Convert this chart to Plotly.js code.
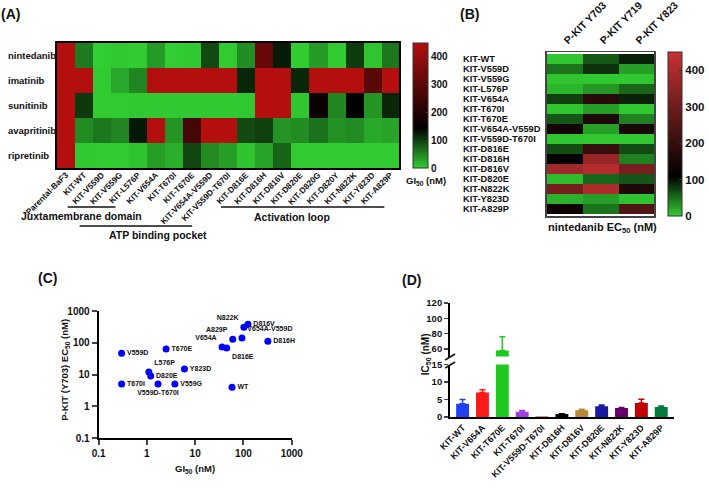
<!DOCTYPE html>
<html>
<head>
<meta charset="utf-8">
<script src="https://cdn.plot.ly/plotly-3.0.1.min.js"></script>
<style>
  html, body { margin: 0; padding: 0; background: #fff; }
  #chart { width: 709px; height: 488px; }
</style>
</head>
<body>
<div id="chart"></div>
<script>
"use strict";

// ---- panel A: GI50 (nM) of each drug on the BaF3 lines ----
const drugs = ["nintedanib", "imatinib", "sunitinib", "avapritinib", "ripretinib"];
const cellLinesA = ["Parental-BaF3", "KIT-WT", "KIT-V559D", "KIT-V559G", "KIT-L576P", "KIT-V654A",
  "KIT-T670I", "KIT-T670E", "KIT-V654A-V559D", "KIT-V559D-T670I", "KIT-D816E", "KIT-D816H",
  "KIT-D816V", "KIT-D820E", "KIT-D820G", "KIT-D820Y", "KIT-N822K", "KIT-Y823D", "KIT-A829P"];
// 1000 = above the top of the scale
const gi50Nintedanib = [1000, 58, 0.3, 3.8, 1.1, 36, 0.3, 2.5, 93, 1.7, 45, 320, 124, 1.2, 35, 2, 102, 6, 60];
const gi50Imatinib = [1000, 1000, 2, 25, 50, 1000, 1000, 1000, 1000, 1000, 117, 1000, 1000, 117, 1000, 1000, 1000, 297, 1000];
const gi50Sunitinib = [1000, 105, 2, 2, 3, 3, 3, 3, 3, 3, 4, 1000, 1000, 5, 165, 50, 145, 39, 117];
const gi50Avapritinib = [1000, 46, 60, 50, 127, 1000, 39, 259, 1000, 1000, 92, 99, 39, 46, 64, 42, 46, 25, 28];
const gi50Ripretinib = [1000, 3, 2, 2, 7, 32, 21, 95, 46, 32, 7, 28, 74, 2, 2, 2, 2, 2, 2];

// ---- panel B: nintedanib EC50 (nM) on KIT phospho-sites ----
const sitesB = ["P-KIT Y703", "P-KIT Y719", "P-KIT Y823"];
const cellLinesB = ["KIT-WT", "KIT-V559D", "KIT-V559G", "KIT-L576P", "KIT-V654A", "KIT-T670I",
  "KIT-T670E", "KIT-V654A-V559D", "KIT-V559D-T670I", "KIT-D816E", "KIT-D816H", "KIT-D816V",
  "KIT-D820E", "KIT-N822K", "KIT-Y823D", "KIT-A829P"];
const ec50Y703 = [4, 47, 5, 12, 73, 5, 63, 140, 5, 68, 112, 380, 9, 310, 15, 130];
const ec50Y719 = [61, 82, 3, 29, 176, 24, 159, 24, 3, 200, 364, 415, 55, 407, 24, 47];
const ec50Y823 = [92, 24, 3, 55, 90, 3, 40, 150, 3, 68, 40, 313, 63, 160, 6, 245];

// ---- panel D: IC50 (nM) ----
const ic50Lines = ["KIT-WT", "KIT-V654A", "KIT-T670E", "KIT-T670I", "KIT-V559D-T670I", "KIT-D816H",
  "KIT-D816V", "KIT-D820E", "KIT-N822K", "KIT-Y823D", "KIT-A829P"];
const ic50Mean = [3.8, 7.0, 58, 1.5, 0.2, 0.85, 1.9, 3.05, 2.6, 4.0, 2.85];
const ic50Err = [1.2, 0.8, 18, 0.35, 0, 0.1, 0.3, 0.35, 0.1, 1.05, 0.3];

// styles
const barColors = ["#2040f0", "#ff1a1a", "#1ec81e", "#a040e0", "#e07020", "#000000",
  "#b8873a", "#1a1aa0", "#660066", "#c00000", "#007a3d"];
// text position of each point label in panel C, same order as cellLinesB
const labelPos = ["middle right", "middle right", "middle right", "top right", "top left",
  "middle right", "middle right", "top right", "bottom center", "bottom right", "middle right",
  "middle right", "middle right", "top left", "middle right", "top left"];

const FONT = "Liberation Sans, Arial, sans-serif";
const W = 709, H = 488;
function px(x) { return x / W; }
function py(y) { return 1 - y / H; }
function bold(size) { return { family: FONT, size: size, color: "#111", weight: "bold" }; }

let traces = [];
let annotations = [];
let shapes = [];

// heatmap A
traces.push({
  type: "heatmap",
  x: cellLinesA,
  y: drugs,
  z: [gi50Nintedanib, gi50Imatinib, gi50Sunitinib, gi50Avapritinib, gi50Ripretinib],
  xaxis: "x", yaxis: "y",
  zmin: 0, zmax: 450,
  colorscale: [[0, "rgb(50,205,50)"], [0.32, "rgb(0,0,0)"], [1, "rgb(180,15,15)"]],
  colorbar: {
    x: px(415), xanchor: "left", y: py(43), yanchor: "top",
    len: 125 / H, lenmode: "fraction", thickness: 15, thicknessmode: "pixels",
    xpad: 0, ypad: 0, outlinewidth: 1, outlinecolor: "#333",
    tickmode: "array", tickvals: [0, 100, 200, 300, 400],
    ticks: "inside", ticklen: 3, tickcolor: "#333",
    tickfont: bold(10)
  }
});

// heatmap B
let zB = [];
for (let i = 0; i < cellLinesB.length; i++) {
  zB.push([ec50Y703[i], ec50Y719[i], ec50Y823[i]]);
}
traces.push({
  type: "heatmap",
  x: sitesB,
  y: cellLinesB,
  z: zB,
  xaxis: "x2", yaxis: "y2",
  zmin: 0, zmax: 450,
  colorscale: [[0, "rgb(50,205,50)"], [0.24, "rgb(0,0,0)"], [1, "rgb(200,50,50)"]],
  colorbar: {
    x: px(671), xanchor: "left", y: py(52), yanchor: "top",
    len: 164 / H, lenmode: "fraction", thickness: 14, thicknessmode: "pixels",
    xpad: 0, ypad: 0, outlinewidth: 1, outlinecolor: "#333",
    tickmode: "array", tickvals: [0, 100, 200, 300, 400],
    ticks: "inside", ticklen: 3, tickcolor: "#333",
    tickfont: bold(11.5)
  }
});

// scatter C: nintedanib GI50 vs P-KIT Y703 EC50
let scX = [], scY = [], scText = [];
for (let i = 0; i < cellLinesB.length; i++) {
  let k = cellLinesA.indexOf(cellLinesB[i]);
  scX.push(gi50Nintedanib[k]);
  scY.push(ec50Y703[i]);
  scText.push(cellLinesB[i].replace("KIT-", ""));
}
traces.push({
  type: "scatter", mode: "markers+text",
  x: scX, y: scY, text: scText, textposition: labelPos,
  textfont: bold(7),
  marker: { color: "#0000ff", size: 7 },
  xaxis: "x3", yaxis: "y3", cliponaxis: false
});

// bars D, one trace per bar so each error bar keeps its colour; drawn on both halves of the broken axis
["y4", "y5"].forEach(ax => {
  for (let i = 0; i < ic50Lines.length; i++) {
    traces.push({
      type: "bar",
      x: [ic50Lines[i]], y: [ic50Mean[i]],
      xaxis: "x4", yaxis: ax,
      width: 0.65,
      marker: { color: barColors[i], line: { width: 0 } },
      error_y: {
        type: "data", array: [ic50Err[i]], arrayminus: [0], symmetric: false,
        visible: ic50Err[i] > 0, color: barColors[i], thickness: 1.5, width: 3
      }
    });
  }
});

// row labels (left aligned)
drugs.forEach((d, i) => {
  annotations.push({ text: d, xref: "paper", x: px(6), xanchor: "left", yref: "y", y: i,
    showarrow: false, font: bold(9.5) });
});
cellLinesB.forEach((c, i) => {
  annotations.push({ text: c, xref: "paper", x: px(463), xanchor: "left", yref: "y2", y: i,
    showarrow: false, font: bold(9.3) });
});

// free text
function note(text, x, y, size, angle) {
  annotations.push({ text: text, xref: "paper", yref: "paper", x: px(x), y: py(y),
    xanchor: "center", yanchor: "middle", showarrow: false, font: bold(size), textangle: angle || 0 });
}
note("(A)", 11, 14, 14);
note("(B)", 471, 14, 14);
note("(C)", 48, 278, 14);
note("(D)", 413, 280, 14);
note("GI<sub>50</sub> (nM)", 428, 181, 9.5);
note("Juxtamembrane domain", 82, 216, 10.5);
note("ATP binding pocket", 159, 235, 10.5);
note("Activation loop", 293, 217, 10.5);
note("nintedanib EC<sub>50</sub> (nM)", 605, 228, 11);
note("P-KIT (Y703) EC<sub>50</sub> (nM)", 65, 370, 9.5, -90);
note("GI<sub>50</sub> (nM)", 196, 469, 9.5);
note("IC<sub>50</sub> (nM)", 428, 354, 10, -90);

// region brackets under panel A, broken-axis marks in D
function seg(x0, y0, x1, y1, w) {
  shapes.push({ type: "line", xref: "paper", yref: "paper", x0: px(x0), y0: py(y0), x1: px(x1), y1: py(y1),
    line: { color: "#111", width: w || 1.3 } });
}
seg(68, 207, 116, 207);
seg(80, 226, 193, 226);
seg(222, 207, 386, 207);
seg(447, 360, 457, 354, 1.5);
seg(447, 368, 457, 362, 1.5);

const axisLine = { showline: true, linecolor: "#000", showgrid: false, zeroline: false };

const layout = {
  width: W, height: H,
  margin: { l: 0, r: 0, t: 0, b: 0 },
  paper_bgcolor: "#fff", plot_bgcolor: "#fff",
  showlegend: false,
  font: { family: FONT, color: "#111" },
  xaxis: Object.assign({}, axisLine, {
    domain: [px(57), px(401)], anchor: "y", type: "category",
    mirror: true, linewidth: 2, ticks: "", tickangle: -45, tickfont: bold(8.3),
    ticklabelstandoff: -3
  }),
  yaxis: Object.assign({}, axisLine, {
    domain: [py(168), py(43)], anchor: "x", type: "category", autorange: "reversed",
    mirror: true, linewidth: 2, ticks: "", showticklabels: false
  }),
  xaxis2: Object.assign({}, axisLine, {
    domain: [px(549), px(657)], anchor: "y2", type: "category", side: "top",
    mirror: true, linewidth: 1.5, linecolor: "#444", ticks: "", tickangle: -45, tickfont: bold(10.5)
  }),
  yaxis2: Object.assign({}, axisLine, {
    domain: [py(216), py(52)], anchor: "x2", type: "category", autorange: "reversed",
    mirror: true, linewidth: 1.5, linecolor: "#444", ticks: "", showticklabels: false
  }),
  xaxis3: Object.assign({}, axisLine, {
    domain: [px(99), px(293)], anchor: "y3", type: "log", range: [-1, 3],
    linewidth: 2, ticks: "outside", ticklen: 5, tickwidth: 2,
    tickmode: "array", tickvals: [0.1, 1, 10, 100, 1000], ticktext: ["0.1", "1", "10", "100", "1000"],
    tickfont: bold(10)
  }),
  yaxis3: Object.assign({}, axisLine, {
    domain: [py(438), py(311)], anchor: "x3", type: "log", range: [-1, 3],
    linewidth: 2, ticks: "outside", ticklen: 5, tickwidth: 2,
    tickmode: "array", tickvals: [0.1, 1, 10, 100, 1000], ticktext: ["0.1", "1", "10", "100", "1000"],
    tickfont: bold(10)
  }),
  xaxis4: Object.assign({}, axisLine, {
    domain: [px(452), px(677)], anchor: "y4", type: "category", range: [-0.63, 10.65],
    linewidth: 2, ticks: "", tickangle: -45, tickfont: bold(9)
  }),
  yaxis4: Object.assign({}, axisLine, {
    domain: [py(417), py(364.5)], anchor: "x4", range: [0, 15],
    linewidth: 2, ticks: "outside", ticklen: 4, tickwidth: 1.5,
    tickmode: "array", tickvals: [0, 5, 10, 15], tickfont: bold(9.5)
  }),
  yaxis5: Object.assign({}, axisLine, {
    domain: [py(356.6), py(303)], anchor: "x4", range: [50, 120],
    linewidth: 2, ticks: "outside", ticklen: 4, tickwidth: 1.5,
    tickmode: "array", tickvals: [60, 80, 100, 120], tickfont: bold(9.5)
  }),
  annotations: annotations,
  shapes: shapes
};

Plotly.newPlot("chart", traces, layout, { displayModeBar: false, staticPlot: true });
</script>
</body>
</html>
